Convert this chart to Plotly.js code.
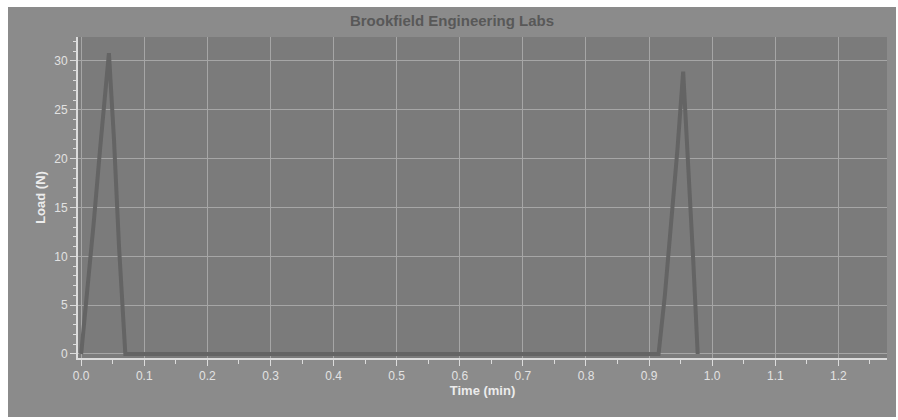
<!DOCTYPE html>
<html>
<head>
<meta charset="utf-8">
<script src="https://cdn.plot.ly/plotly-3.0.1.min.js"></script>
<style>
html,body{margin:0;padding:0;background:#ffffff;width:898px;height:420px;overflow:hidden;}
#chart{position:absolute;left:8px;top:7px;width:888px;height:410px;}
</style>
</head>
<body>
<div id="chart"></div>
<script>
const timeMin = [0.000, 0.010, 0.020, 0.030, 0.044, 0.052, 0.060, 0.070, 0.200, 0.500, 0.800, 0.915, 0.925, 0.935, 0.945, 0.954, 0.962, 0.970, 0.977];
const loadN   = [0.0,   6.5,   13.5,  21.0,  30.8,  22.0,  11.0,  0.0,   0.0,   0.0,   0.0,   0.0,   6.0,   13.0,  21.0,  28.9,  19.5,  9.5,   0.0];
const xTicks = [0.0, 0.1, 0.2, 0.3, 0.4, 0.5, 0.6, 0.7, 0.8, 0.9, 1.0, 1.1, 1.2];
const xTickText = ['0.0','0.1','0.2','0.3','0.4','0.5','0.6','0.7','0.8','0.9','1.0','1.1','1.2'];
const yTicks = [0, 5, 10, 15, 20, 25, 30];

const trace = {
  x: timeMin, y: loadN, type: 'scatter', mode: 'lines',
  line: {color: '#646464', width: 4}, hoverinfo: 'skip'
};
const axFont = {family: 'Liberation Sans, Arial, sans-serif', size: 12, color: '#e2e2e2'};
const layout = {
  width: 888, height: 410,
  margin: {l: 70, r: 9, t: 30, b: 59},
  paper_bgcolor: '#8b8b8b',
  plot_bgcolor: '#7b7b7b',
  showlegend: false,
  title: {text: '<b>Brookfield Engineering Labs</b>', x: 0.5, xanchor: 'center', y: 0.98, yanchor: 'top',
          font: {family: 'Liberation Sans, Arial, sans-serif', size: 15, color: '#585858'}},
  xaxis: {
    range: [-0.005, 1.277], tickvals: xTicks, ticktext: xTickText,
    showgrid: true, gridcolor: '#a6a6a6', gridwidth: 1, zeroline: false,
    showline: true, linecolor: '#dcdcdc', linewidth: 2,
    ticks: 'outside', ticklen: 6, tickcolor: '#dcdcdc',
    minor: {dtick: 0.05, tick0: 0, ticks: 'outside', ticklen: 4, tickcolor: '#dcdcdc', showgrid: false},
    tickfont: axFont,
    title: {text: '<b>Time (min)</b>', font: {family: 'Liberation Sans, Arial, sans-serif', size: 13, color: '#ececec'}, standoff: 2}
  },
  yaxis: {
    range: [-0.41, 32.45], tickvals: yTicks,
    showgrid: true, gridcolor: '#a6a6a6', gridwidth: 1, zeroline: false,
    showline: true, linecolor: '#dcdcdc', linewidth: 2,
    ticks: 'outside', ticklen: 6, tickcolor: '#dcdcdc',
    minor: {dtick: 1, tick0: 0, ticks: 'outside', ticklen: 3, tickcolor: '#dcdcdc', showgrid: false},
    tickfont: axFont,
    title: {text: '<b>Load (N)</b>', font: {family: 'Liberation Sans, Arial, sans-serif', size: 13, color: '#ececec'}, standoff: 6}
  }
};
Plotly.newPlot('chart', [trace], layout, {displayModeBar: false, staticPlot: true});
</script>
</body>
</html>
